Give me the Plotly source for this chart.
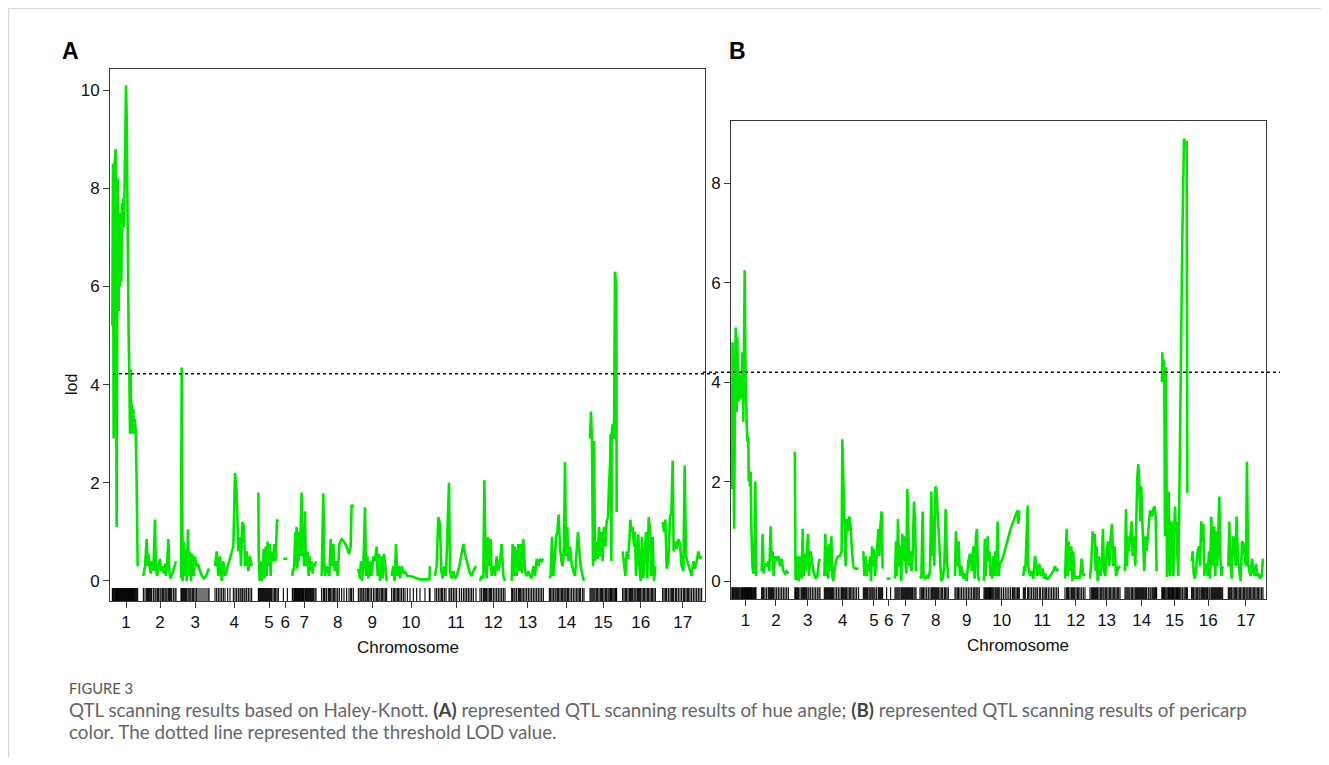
import plotly.graph_objects as go

# page body has an 8px margin; figure is sized to fit inside the window
OFF = 8
W, H = 1329 - 2 * OFF, 765 - 2 * OFF

# ---------------- data ----------------
chr_labels = [str(i) for i in range(1, 18)]
chr_mid = [32, 100, 170.6, 248.6, 318, 350.6, 388.6, 455.4, 524.6, 602,
           692, 766.6, 835.4, 913.4, 986.6, 1061.4, 1145.4]
chr_break = [61.7, 137, 203, 289, 341.5, 360, 416, 492, 558, 645.5,
             736, 795, 871.5, 953, 1020, 1099]
threshold_a = 4.22
threshold_b = 4.2

# Panel A: hue angle  (position in cM on concatenated map, LOD)
pos_a = [
    4.7, 6.0, 7.3, 9.3, 11.3, 12.7, 13.3, 14.7, 16.0, 17.3, 18.7, 20.0, 21.3, 22.7, 24.0, 25.3, 26.7, 28.0, 29.3, 30.7, 32.0, 33.3, 34.7, 36.0, 37.3, 38.7, 40.0, 41.3, 42.7, 44.0, 45.3, 46.7, 48.0, 49.3, 51.3, 53.3, 55.3,
    66.7, 70.0, 73.3, 75.3, 76.7, 78.7, 81.3, 83.3, 86.7, 90.0, 92.0, 94.7, 96.7, 100.0, 102.0, 104.7, 107.3, 110.0, 112.0, 114.0, 116.7, 118.7, 120.7, 123.3, 126.7, 130.0, 132.0,
    142.0, 143.3, 145.3, 147.3, 149.3, 151.3, 153.3, 156.0, 158.0, 160.0, 162.0, 164.7, 167.3, 170.0, 172.7, 176.0, 180.0, 184.0, 188.0, 192.0, 196.0, 198.0,
    210.0, 213.3, 216.7, 220.0, 223.3, 226.7, 230.0, 235.3, 240.0, 246.7, 250.0, 253.3, 256.7, 260.0, 262.0, 264.7, 268.0, 270.0, 273.3, 276.7, 280.0, 283.3,
    296.7, 297.3, 299.3, 301.3, 303.3, 305.3, 307.3, 309.3, 311.3, 313.3, 315.3, 317.3, 319.3, 321.3, 323.3, 326.0, 328.7, 331.3, 334.0, 336.7,
    346.7, 354.7,
    364.7, 366.0, 368.0, 369.3, 370.7, 372.0, 373.3, 374.7, 376.0, 377.3, 378.7, 380.0, 381.3, 383.3, 385.0, 386.7, 388.0, 390.0, 391.3, 393.3, 395.3, 397.3, 399.3, 401.3, 403.3, 405.3, 407.3, 410.0, 412.0,
    423.3, 426.7, 428.7, 430.0, 433.3, 436.7, 438.7, 441.3, 444.0, 446.7, 449.3, 452.0, 455.3, 458.7, 463.3, 468.0, 473.3, 478.0, 481.3, 483.3, 486.7,
    496.7, 500.0, 502.0, 504.0, 506.7, 510.0, 512.0, 514.7, 516.7, 520.0, 522.7, 526.7, 530.0, 533.3, 535.3, 538.0, 540.0, 543.3, 545.3, 548.0, 550.7, 553.3,
    563.3, 566.7, 569.3, 572.0, 574.7, 577.3, 580.0, 583.3, 586.7, 590.0, 594.7, 600.0, 606.7, 613.3, 620.0, 630.0, 638.7, 640.0,
    650.0, 653.3, 656.7, 660.0, 662.7, 665.3, 668.7, 672.0, 678.0, 680.0, 683.3, 686.7, 690.0, 693.3, 698.7, 702.7, 706.7, 710.0, 713.3, 716.7, 720.0, 723.3, 726.7, 732.0,
    740.0, 743.3, 746.7, 748.7, 751.3, 753.3, 756.0, 758.7, 761.3, 763.3, 766.7, 770.0, 773.3, 776.7, 780.0, 783.3, 786.7, 790.0,
    803.3, 805.3, 808.0, 810.0, 813.3, 816.7, 818.7, 821.3, 824.0, 826.7, 830.0, 833.3, 836.7, 840.0, 843.3, 846.7, 850.0, 853.3, 856.7, 860.0, 863.3, 866.7,
    878.7, 881.3, 884.0, 886.7, 890.0, 892.0, 894.7, 897.3, 900.0, 902.7, 905.3, 908.0, 910.0, 912.0, 914.7, 916.7, 920.0, 923.3, 926.7, 930.0, 933.3, 936.0, 938.7, 941.3, 945.3, 948.0,
    960.0, 962.0, 964.0, 966.0, 968.0, 970.0, 972.7, 975.3, 978.0, 980.7, 983.3, 985.3, 988.0, 990.7, 993.3, 996.0, 998.0, 1000.0, 1001.3, 1002.7, 1004.0, 1006.0, 1008.0, 1010.0, 1011.3, 1012.7, 1013.3,
    1025.3, 1028.0, 1030.7, 1033.3, 1036.0, 1038.7, 1040.7, 1042.7, 1045.3, 1048.0, 1050.0, 1052.0, 1054.7, 1056.7, 1058.7, 1061.3, 1064.0, 1066.7, 1069.3, 1072.0, 1074.7, 1077.3, 1080.0, 1082.7, 1085.3, 1088.0, 1090.7,
    1105.3, 1108.0, 1110.7, 1113.3, 1116.7, 1120.0, 1122.7, 1125.3, 1127.3, 1130.7, 1133.3, 1136.7, 1140.0, 1143.3, 1146.7, 1149.3, 1152.0, 1154.7, 1157.3, 1160.0, 1163.3, 1166.7, 1170.0, 1173.3, 1176.7, 1180.0, 1183.3,
]
lod_a = [
    5.2, 8.5, 2.9, 8.5, 8.8, 5.0, 1.1, 6.0, 8.2, 5.5, 7.5, 6.0, 6.8, 6.1, 7.7, 7.2, 7.8, 7.2, 8.3, 9.0, 10.1, 9.5, 7.5, 6.0, 5.0, 4.2, 3.0, 4.3, 3.1, 3.6, 3.0, 3.5, 3.0, 3.3, 3.1, 2.0, 0.3,
    0.1, 0.3, 0.85, 0.3, 0.55, 0.3, 0.15, 0.4, 0.2, 1.25, 0.2, 0.1, 0.3, 0.45, 0.2, 0.3, 0.15, 0.35, 0.1, 0.3, 0.85, 0.2, 0.05, 0.1, 0.2, 0.3, 0.4,
    0.05, 4.35, 0.0, 0.8, 0.1, 0.65, 0.0, 1.05, 0.1, 0.6, 0.0, 0.55, 0.1, 0.5, 0.3, 0.35, 0.2, 0.1, 0.05, 0.1, 0.2, 0.25,
    0.3, 0.6, 0.1, 0.5, 0.0, 0.4, 0.1, 0.3, 0.5, 0.7, 2.2, 1.8, 0.6, 0.9, 0.3, 1.2, 1.1, 0.3, 0.6, 0.2, 0.5, 0.3,
    1.8, 0.6, 0.0, 0.4, 0.0, 0.1, 0.65, 0.05, 0.7, 0.1, 0.8, 0.3, 0.75, 0.1, 0.6, 0.4, 0.75, 0.4, 1.25, 1.2,
    0.45, 0.45,
    0.1, 0.25, 0.2, 0.65, 1.0, 0.3, 1.1, 0.25, 0.7, 0.4, 1.0, 0.5, 1.3, 1.8, 0.5, 0.9, 0.3, 1.42, 0.5, 0.3, 0.6, 0.1, 0.5, 0.2, 0.4, 0.15, 0.35, 0.3, 0.4,
    0.1, 1.78, 0.3, 0.1, 0.3, 0.15, 0.1, 0.85, 0.3, 0.75, 0.2, 0.4, 0.1, 0.75, 0.85, 0.8, 0.7, 0.55, 0.7, 1.55, 1.5,
    0.25, 0.05, 0.4, 0.0, 0.3, 1.5, 0.1, 0.5, 0.05, 0.4, 0.1, 0.5, 0.4, 0.7, 0.1, 0.55, 0.0, 0.5, 0.05, 0.55, 0.3, 0.0,
    0.1, 0.3, 0.0, 0.75, 0.1, 0.3, 0.05, 0.3, 0.15, 0.2, 0.1, 0.1, 0.08, 0.05, 0.03, 0.03, 0.03, 0.3,
    0.1, 0.3, 1.3, 1.15, 0.2, 0.05, 0.3, 0.1, 2.0, 0.2, 0.05, 0.2, 0.05, 0.1, 0.3, 0.5, 0.75, 0.55, 0.4, 0.3, 0.15, 0.1, 0.2, 0.3,
    0.0, 0.1, 0.05, 2.05, 0.3, 0.05, 0.9, 0.3, 0.85, 0.1, 0.3, 0.1, 0.5, 0.2, 0.4, 0.75, 0.1, 0.0,
    0.0, 0.75, 0.1, 0.7, 0.1, 0.75, 0.2, 0.75, 0.15, 0.85, 0.2, 0.1, 0.2, 0.1, 0.05, 0.3, 0.1, 0.45, 0.3, 0.45, 0.4, 0.45,
    0.05, 0.1, 0.9, 0.1, 0.5, 0.9, 1.0, 1.35, 0.7, 0.4, 0.3, 0.7, 2.42, 0.5, 1.1, 0.4, 0.7, 0.35, 0.2, 0.1, 0.6, 1.0, 0.6, 0.3, 0.1, 0.0,
    2.9, 3.45, 2.8, 0.3, 2.85, 0.4, 0.8, 0.45, 1.1, 0.5, 1.0, 0.4, 1.1, 0.7, 1.2, 1.3, 1.95, 2.35, 3.0, 0.4, 3.1, 3.2, 2.9, 6.3, 6.15, 6.0, 1.4,
    0.6, 0.4, 0.1, 0.6, 0.45, 0.8, 1.25, 1.0, 1.1, 0.7, 1.0, 0.1, 0.7, 0.95, 0.3, 0.0, 0.9, 0.05, 0.5, 1.0, 0.05, 1.3, 1.05, 0.1, 0.9, 0.0, 0.3,
    1.2, 1.0, 1.25, 0.25, 0.4, 1.3, 1.4, 2.45, 0.6, 0.8, 0.65, 0.85, 0.75, 0.3, 0.2, 2.35, 0.5, 0.4, 0.3, 0.2, 0.1, 0.4, 0.25, 0.4, 0.6, 0.45, 0.5,
]

# Panel B: pericarp color
pos_b = [
    2.0, 3.5, 5.2, 7.0, 8.9, 10.5, 12.6, 14.0, 16.3, 18.0, 20.0, 22.0, 23.7, 25.5, 27.4, 29.0, 30.4, 32.0, 33.5, 34.8, 36.5, 38.5, 39.5, 40.7, 42.2, 43.7, 45.5, 47.5, 49.7, 52.0, 54.2, 55.6,
    68.2, 70.4, 72.6, 75.6, 79.3, 83.0, 85.3, 88.2, 90.4, 92.7, 94.9, 97.9, 101.6, 105.3, 109.0, 112.7, 116.4, 120.1, 123.8, 127.5,
    142.0, 143.5, 146.0, 148.3, 150.5, 153.5, 157.2, 159.4, 161.6, 163.8, 166.1, 168.3, 171.3, 173.5, 177.2, 180.9, 184.6, 188.3, 192.0, 195.7, 197.9,
    207.6, 209.8, 212.0, 214.3, 216.5, 218.7, 221.0, 223.2, 225.4, 227.6, 231.3, 235.0, 238.7, 242.4, 246.1, 247.6, 249.8, 252.0, 255.0, 257.3, 260.2, 263.2, 266.2, 269.1, 272.1, 275.8, 279.5, 283.9,
    294.3, 296.6, 299.5, 301.8, 304.0, 307.0, 309.2, 311.4, 313.7, 315.8, 318.0, 320.3, 324.0, 327.7, 329.9, 332.2, 335.1, 337.3,
    346.2, 355.1,
    364.8, 367.0, 369.2, 371.4, 373.7, 375.9, 378.9, 381.1, 383.3, 385.5, 387.7, 390.0, 392.2, 394.4, 396.6, 398.9, 401.8, 404.0, 407.0, 409.2, 411.5,
    420.4, 423.3, 426.3, 428.5, 431.5, 435.2, 438.9, 442.6, 445.6, 447.8, 450.0, 452.2, 454.5, 456.7, 458.9, 461.9, 464.9, 467.8, 470.8, 474.5, 477.4, 480.4, 483.4,
    498.2, 500.4, 503.4, 506.3, 509.3, 513.0, 516.7, 520.5, 524.2, 527.9, 531.6, 535.3, 539.0, 542.0, 544.9, 547.1, 549.4, 552.3,
    562.7, 564.5, 566.5, 568.5, 570.9, 573.1, 575.0, 577.0, 579.0, 581.0, 583.0, 585.0, 587.9, 590.0, 593.1, 595.5, 598.0, 602.0, 606.0, 610.0, 614.0, 618.0, 622.0, 626.0, 628.0, 631.0, 634.0, 637.0, 639.0, 641.3,
    650.2, 652.4, 654.7, 659.9, 661.3, 665.0, 668.7, 672.5, 676.2, 678.4, 681.4, 685.8, 688.8, 693.2, 696.2, 699.1, 702.1, 705.8, 709.5, 713.2, 717.0, 720.6, 724.4, 728.1,
    742.9, 746.6, 748.8, 751.0, 754.0, 757.0, 759.2, 761.4, 764.4, 767.4, 770.4, 773.3, 776.3, 780.0, 783.7, 787.4,
    798.5, 801.5, 804.4, 806.6, 808.9, 811.1, 813.3, 815.5, 818.5, 821.5, 824.5, 827.4, 829.6, 832.6, 835.6, 838.6, 841.5, 844.5, 847.5, 850.4, 853.4, 856.4, 859.3, 862.3, 865.3,
    876.4, 878.6, 880.8, 883.0, 885.3, 887.5, 891.2, 893.4, 896.4, 899.3, 901.6, 903.8, 906.0, 908.2, 910.4, 912.7, 914.9, 917.1, 919.3, 922.3, 924.5, 928.2, 931.9, 934.1, 937.1, 939.3, 942.3, 944.5, 946.7,
    958.5, 959.4, 961.6, 962.5, 963.8, 965.3, 967.6, 969.8, 972.0, 973.5, 975.0, 976.4, 978.3, 980.2, 982.0, 983.9, 985.7, 987.6, 989.5, 991.3, 993.0, 995.0, 997.0, 998.7, 1000.9, 1003.9, 1007.6, 1010.0, 1012.0, 1013.5, 1015.0,
    1024.6, 1026.9, 1029.1, 1032.1, 1035.0, 1038.0, 1041.0, 1043.2, 1046.1, 1048.4, 1050.6, 1052.8, 1055.0, 1058.0, 1060.2, 1063.2, 1065.4, 1068.4, 1070.6, 1072.8, 1075.0, 1077.3, 1079.5, 1081.7, 1083.9, 1086.2, 1088.4, 1090.6, 1093.6,
    1106.2, 1108.4, 1110.6, 1113.6, 1116.6, 1119.5, 1122.5, 1124.7, 1127.7, 1130.7, 1133.6, 1136.6, 1139.6, 1142.5, 1145.5, 1147.7, 1150.0, 1152.9, 1155.9, 1158.8, 1161.8, 1164.8, 1167.7, 1170.7, 1173.7, 1176.6, 1180.3, 1183.3,
]
lod_b = [
    1.85, 4.8, 3.0, 1.05, 4.0, 5.1, 3.4, 4.9, 3.6, 4.2, 3.65, 4.1, 3.7, 4.6, 3.2, 4.8, 6.25, 4.5, 3.4, 3.2, 2.8, 2.9, 2.0, 2.2, 1.9, 2.2, 1.0, 0.3, 0.15, 0.6, 2.0, 0.1,
    0.2, 0.95, 0.15, 0.35, 0.3, 0.4, 0.2, 1.1, 0.4, 0.6, 0.1, 0.5, 0.4, 0.5, 0.3, 0.45, 0.2, 0.15, 0.2, 0.15,
    2.6, 0.05, 0.05, 0.5, 0.0, 0.5, 0.05, 1.05, 0.1, 0.55, 0.2, 0.6, 0.95, 0.1, 0.6, 0.35, 0.15, 0.05, 0.1, 0.4, 0.45,
    0.1, 0.95, 0.1, 0.7, 0.05, 0.75, 0.2, 0.9, 0.1, 0.0, 0.3, 0.45, 0.5, 0.5, 0.6, 2.85, 2.1, 1.3, 0.3, 1.25, 1.0, 1.3, 1.1, 0.6, 0.3, 0.25, 0.25, 0.25,
    0.6, 0.1, 0.5, 0.1, 0.35, 0.2, 0.5, 0.0, 0.7, 0.3, 0.65, 0.1, 0.5, 1.05, 0.5, 1.1, 1.4, 0.25,
    0.05, 0.05,
    0.05, 0.8, 0.1, 1.25, 0.3, 0.7, 0.0, 0.95, 0.4, 0.9, 0.5, 0.15, 1.85, 0.7, 0.3, 0.6, 0.2, 0.5, 1.6, 1.3, 0.2,
    0.1, 0.05, 1.4, 0.1, 0.05, 0.1, 0.05, 0.2, 1.8, 0.5, 1.3, 0.3, 1.9, 1.85, 1.5, 0.9, 0.3, 0.0, 0.05, 0.3, 1.45, 0.4, 0.05,
    0.1, 1.0, 0.3, 0.8, 0.1, 0.3, 0.05, 0.15, 0.0, 0.4, 0.55, 0.2, 0.7, 0.05, 0.9, 1.05, 0.1, 0.0,
    0.0, 0.85, 0.1, 0.6, 0.9, 0.4, 0.6, 0.1, 0.3, 0.05, 0.5, 0.1, 0.6, 0.1, 1.2, 0.1, 0.35, 0.4, 0.5, 0.65, 0.8, 0.95, 1.05, 1.15, 1.2, 1.3, 1.35, 1.42, 1.15, 1.42,
    0.1, 0.3, 0.2, 1.52, 0.3, 0.1, 0.2, 0.05, 0.5, 0.4, 0.1, 0.35, 0.1, 0.25, 0.05, 0.15, 0.05, 0.05, 0.1, 0.15, 0.2, 0.3, 0.2, 0.25,
    0.05, 1.05, 0.1, 0.8, 0.2, 0.7, 0.0, 0.6, 0.05, 0.1, 0.05, 0.1, 0.05, 0.45, 0.1, 0.15,
    0.05, 0.4, 1.0, 0.8, 0.95, 0.2, 0.7, 0.0, 0.5, 0.1, 0.3, 1.05, 0.2, 0.1, 0.6, 0.8, 0.3, 0.9, 1.15, 0.3, 0.7, 0.1, 0.2, 0.3, 0.25,
    0.2, 1.45, 0.3, 0.9, 0.6, 0.9, 1.2, 0.5, 0.9, 0.3, 1.6, 2.1, 2.35, 2.0, 1.2, 1.9, 1.2, 0.5, 0.2, 0.9, 0.6, 1.0, 1.4, 1.4, 1.3, 1.45, 1.5, 1.3, 0.2,
    4.0, 4.6, 4.0, 4.45, 4.4, 0.9, 4.3, 0.08, 0.5, 1.8, 0.6, 0.1, 0.7, 1.2, 0.5, 0.1, 0.9, 1.5, 1.0, 1.2, 0.5, 0.1, 1.5, 2.9, 5.6, 6.9, 8.9, 8.75, 8.8, 8.85, 1.77,
    0.4, 0.6, 0.15, 0.05, 0.3, 0.6, 0.7, 0.3, 1.2, 0.8, 1.15, 0.1, 0.3, 0.35, 0.1, 0.6, 0.05, 1.3, 0.3, 0.8, 1.1, 0.1, 1.0, 0.3, 1.2, 1.7, 0.5, 0.1, 0.3,
    0.3, 1.2, 0.4, 0.05, 0.9, 0.85, 0.3, 1.3, 0.4, 0.2, 0.0, 0.8, 0.75, 0.5, 0.3, 2.4, 0.4, 0.2, 0.1, 0.45, 0.2, 0.1, 0.35, 0.1, 0.15, 0.05, 0.1, 0.45,
]

# ---------------- helpers ----------------
def px_x(p):
    return (p - OFF) / W

def px_y(p):
    return 1 - (p - OFF) / H

def segmented(pos, lod):
    xs, ys, prev = [], [], None
    for p, v in zip(pos, lod):
        c = sum(1 for b in chr_break if p > b)
        if prev is not None and c != prev:
            xs.append(None)
            ys.append(None)
        xs.append(p)
        ys.append(v)
        prev = c
    return xs, ys

GREEN = "#00E600"
AXC = "#3a3a3a"
TICKFONT = dict(family="Liberation Sans, Arial, sans-serif", size=17, color="#111")

fig = go.Figure()

xa, ya = segmented(pos_a, lod_a)
xb, yb = segmented(pos_b, lod_b)

fig.add_trace(go.Scatter(x=xa, y=ya, mode="lines", line=dict(color=GREEN, width=2.6),
                         xaxis="x", yaxis="y", showlegend=False, hoverinfo="skip"))
fig.add_trace(go.Scatter(x=xb, y=yb, mode="lines", line=dict(color=GREEN, width=2.6),
                         xaxis="x2", yaxis="y2", showlegend=False, hoverinfo="skip"))

# marker rugs
fig.add_trace(go.Scatter(x=pos_a, y=[-0.29] * len(pos_a), mode="markers",
                         marker=dict(symbol="line-ns", size=10, line=dict(width=1.1, color="#000")),
                         xaxis="x", yaxis="y", showlegend=False, hoverinfo="skip"))
fig.add_trace(go.Scatter(x=pos_b, y=[-0.25] * len(pos_b), mode="markers",
                         marker=dict(symbol="line-ns", size=9, line=dict(width=1.1, color="#000")),
                         xaxis="x2", yaxis="y2", showlegend=False, hoverinfo="skip"))

common_x = dict(range=[0, 1190], tickmode="array", tickvals=chr_mid, ticktext=chr_labels,
                ticks="outside", ticklen=6, tickwidth=1, tickcolor=AXC, showline=True,
                linecolor=AXC, linewidth=1, mirror=True, showgrid=False, zeroline=False,
                tickfont=TICKFONT, automargin=False, fixedrange=True)
common_y = dict(tickmode="array", ticks="outside", ticklen=6, tickwidth=1, tickcolor=AXC,
                showline=True, linecolor=AXC, linewidth=1, mirror=True, showgrid=False,
                zeroline=False, tickfont=TICKFONT, automargin=False, fixedrange=True)

fig.update_layout(
    width=W, height=H,
    margin=dict(l=0, r=0, t=0, b=0),
    paper_bgcolor="white", plot_bgcolor="white",
    xaxis=dict(domain=[px_x(110), px_x(705)], anchor="y", **common_x),
    yaxis=dict(domain=[px_y(601), px_y(69)], anchor="x", range=[-0.41, 10.43],
               tickvals=[0, 2, 4, 6, 8, 10], **common_y),
    xaxis2=dict(domain=[px_x(731), px_x(1266)], anchor="y2", **common_x),
    yaxis2=dict(domain=[px_y(599), px_y(120.5)], anchor="x2", range=[-0.36, 9.26],
                tickvals=[0, 2, 4, 6, 8], **common_y),
)

shapes = [
    # threshold lines (extend a little past frames, as in the original)
    dict(type="line", xref="paper", yref="y", x0=px_x(113), x1=px_x(716),
         y0=threshold_a, y1=threshold_a, line=dict(color="#111", width=1.6, dash="dot")),
    dict(type="line", xref="paper", yref="y2", x0=px_x(703), x1=px_x(1280),
         y0=threshold_b, y1=threshold_b, line=dict(color="#111", width=1.6, dash="dot")),
    # page border lines
    dict(type="line", xref="paper", yref="paper", x0=0.0005, x1=0.0005,
         y0=0.9995, y1=0, line=dict(color="#d0d0d0", width=1)),
    dict(type="line", xref="paper", yref="paper", x0=0, x1=1,
         y0=0.9995, y1=0.9995, line=dict(color="#d0d0d0", width=1)),
]
fig.update_layout(shapes=shapes)

ann = []
LAB = dict(family="Liberation Sans, Arial, sans-serif", size=17, color="#111")
ann.append(dict(text="Chromosome", x=px_x(408), y=px_y(647), xref="paper", yref="paper",
                showarrow=False, font=LAB, xanchor="center", yanchor="middle"))
ann.append(dict(text="Chromosome", x=px_x(1018), y=px_y(645), xref="paper", yref="paper",
                showarrow=False, font=LAB, xanchor="center", yanchor="middle"))
ann.append(dict(text="lod", x=px_x(71), y=px_y(385), xref="paper", yref="paper",
                showarrow=False, font=dict(family="Liberation Sans, Arial, sans-serif", size=16, color="#111"),
                textangle=-90, xanchor="center", yanchor="middle"))
PANEL = dict(family="Liberation Sans, Arial, sans-serif", size=23, color="#000")
ann.append(dict(text="<b>A</b>", x=px_x(60), y=px_y(51), xref="paper", yref="paper",
                showarrow=False, font=PANEL, xanchor="left", yanchor="middle"))
ann.append(dict(text="<b>B</b>", x=px_x(727), y=px_y(51), xref="paper", yref="paper",
                showarrow=False, font=PANEL, xanchor="left", yanchor="middle"))

CAP = "Lato, 'Open Sans', sans-serif"
ann.append(dict(text="FIGURE 3", x=px_x(67), y=px_y(688), xref="paper", yref="paper",
                showarrow=False, font=dict(family=CAP, size=14.7, color="#555"),
                xanchor="left", yanchor="middle"))
line1 = ("QTL scanning results based on Haley-Knott. <b><span style='color:#444'>(A)</span></b> represented QTL scanning "
         "results of hue angle; <b><span style='color:#444'>(B)</span></b> represented QTL scanning results of pericarp")
line2 = "color. The dotted line represented the threshold LOD value."
ann.append(dict(text=line1, x=px_x(67), y=px_y(709), xref="paper", yref="paper",
                showarrow=False, font=dict(family=CAP, size=18.8, color="#666"),
                xanchor="left", yanchor="middle"))
ann.append(dict(text=line2, x=px_x(67), y=px_y(731), xref="paper", yref="paper",
                showarrow=False, font=dict(family=CAP, size=18.8, color="#666"),
                xanchor="left", yanchor="middle"))
fig.update_layout(annotations=ann)

fig.write_html("out.html")
